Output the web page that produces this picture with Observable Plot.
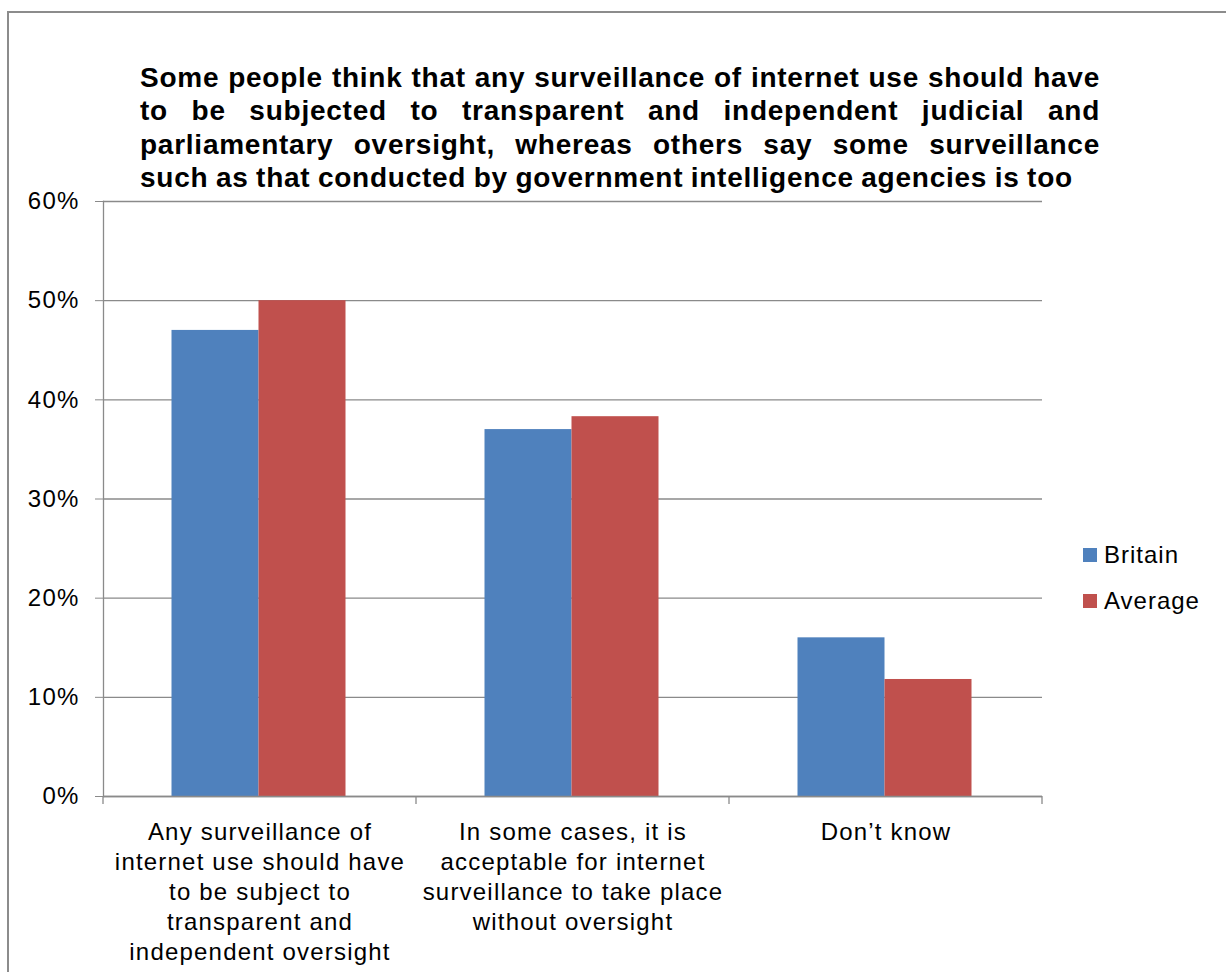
<!DOCTYPE html>
<html>
<head>
<meta charset="utf-8">
<script src="https://cdn.jsdelivr.net/npm/d3@7"></script>
<script src="https://cdn.jsdelivr.net/npm/@observablehq/plot@0.6"></script>
<style>
  html, body { margin: 0; padding: 0; width: 1226px; height: 972px; overflow: hidden; background: #fff; }
  body { position: relative; font-family: "Liberation Sans", Arial, sans-serif; color: #000; }
  #frame { position: absolute; left: 7px; top: 11px; right: -5px; bottom: -5px; border-left: 2px solid #8c8c8c; border-top: 2px solid #8c8c8c; }
  #title { position: absolute; left: 140px; top: 61px; width: 960px; font-weight: bold; font-size: 28px; line-height: 33.3px; letter-spacing: 0.75px; }
  #title .j { text-align: justify; text-align-last: justify; white-space: nowrap; }
  #title .l { text-align: left; word-spacing: -1px; white-space: nowrap; }
  #chart { position: absolute; left: 0; top: 180px; }
  #chart svg text { letter-spacing: 1.2px; }
  .leg { position: absolute; left: 1083px; font-size: 24px; letter-spacing: 1px; height: 28px; line-height: 28px; }
  .leg span.sw { position: absolute; left: 0; top: 7px; width: 14px; height: 14px; }
  .leg span.t { position: absolute; left: 21px; top: 0; white-space: nowrap; }
</style>
</head>
<body>
<div id="frame"></div>
<div id="title"></div>
<div id="chart"></div>
<div id="legend"></div>
<script>
// ---- data ----
const titleLines = [
  "Some people think that any surveillance of internet use should have",
  "to be subjected to transparent and independent judicial and",
  "parliamentary oversight, whereas others say some surveillance",
  "such as that conducted by government intelligence agencies is too"
];
const categories = [
  "Any surveillance of internet use should have to be subject to transparent and independent oversight",
  "In some cases, it is acceptable for internet surveillance to take place without oversight",
  "Don’t know"
];
const categoryLabels = [
  "Any surveillance of\ninternet use should have\nto be subject to\ntransparent and\nindependent oversight",
  "In some cases, it is\nacceptable for internet\nsurveillance to take place\nwithout oversight",
  "Don’t know"
];
const series = ["Britain", "Average"];
const britain = [0.47, 0.37, 0.16];
const average = [0.50, 0.383, 0.118];
const colors = ["#4F81BD", "#C0504D"];
const yTicks = [0, 0.1, 0.2, 0.3, 0.4, 0.5, 0.6];

// ---- title ----
const titleEl = document.getElementById("title");
titleLines.forEach((t, i) => {
  const d = document.createElement("div");
  d.className = i < titleLines.length - 1 ? "j" : "l";
  d.textContent = t;
  titleEl.appendChild(d);
});

// ---- table ----
const data = categories.flatMap((c, i) => [
  {category: c, series: series[0], value: britain[i]},
  {category: c, series: series[1], value: average[i]}
]);

const gray = "#8a8a8a";
const chart = Plot.plot({
  width: 1226,
  height: 792,
  marginTop: 21,
  marginBottom: 176,
  marginLeft: 102,
  marginRight: 184,
  style: {background: "transparent", fontFamily: "'Liberation Sans', Arial, sans-serif", fontSize: "24px", color: "#000", overflow: "visible"},
  fx: {domain: categories, padding: 0, label: null},
  x: {domain: series, paddingInner: 0, paddingOuter: 0.78, axis: null},
  y: {domain: [0, 0.6], label: null},
  color: {domain: series, range: colors},
  marks: [
    Plot.gridY(yTicks, {stroke: gray, strokeOpacity: 1, strokeWidth: 1.3}),
    Plot.barY(data, {fx: "category", x: "series", y: "value", fill: "series", dx: -1.5}),
    Plot.ruleY([0], {stroke: gray, strokeWidth: 1.3}),
    Plot.frame({anchor: "left", facetAnchor: "left", stroke: gray, strokeWidth: 1.3}),
    Plot.axisY(yTicks, {tickSize: 8, tickPadding: 16, tickFormat: d3.format(".0%"), stroke: gray, fill: "#000", fontSize: 24, label: null}),
    Plot.axisFx({anchor: "bottom", tickSize: 0, tickPadding: 22, tickFormat: d => categoryLabels[categories.indexOf(d)], lineHeight: 1.25, fontSize: 24, fill: "#000", label: null})
  ]
});
document.getElementById("chart").appendChild(chart);

// boundary tick marks on the category axis, from the library's scales
const fx = chart.scale("fx");
const ys = chart.scale("y");
const y0 = ys.apply(0);
const bounds = categories.map(c => fx.apply(c));
bounds.push(fx.apply(categories[categories.length - 1]) + fx.bandwidth);
d3.select(chart).append("g")
  .attr("stroke", gray).attr("stroke-width", 1.3)
  .selectAll("line").data(bounds).join("line")
  .attr("x1", d => d).attr("x2", d => d)
  .attr("y1", y0).attr("y2", y0 + 8);

// ---- legend ----
const legendEl = document.getElementById("legend");
series.forEach((s, i) => {
  const d = document.createElement("div");
  d.className = "leg";
  d.style.top = (541 + i * 46) + "px";
  d.innerHTML = `<span class="sw" style="background:${colors[i]}"></span><span class="t">${s}</span>`;
  legendEl.appendChild(d);
});
</script>
</body>
</html>
